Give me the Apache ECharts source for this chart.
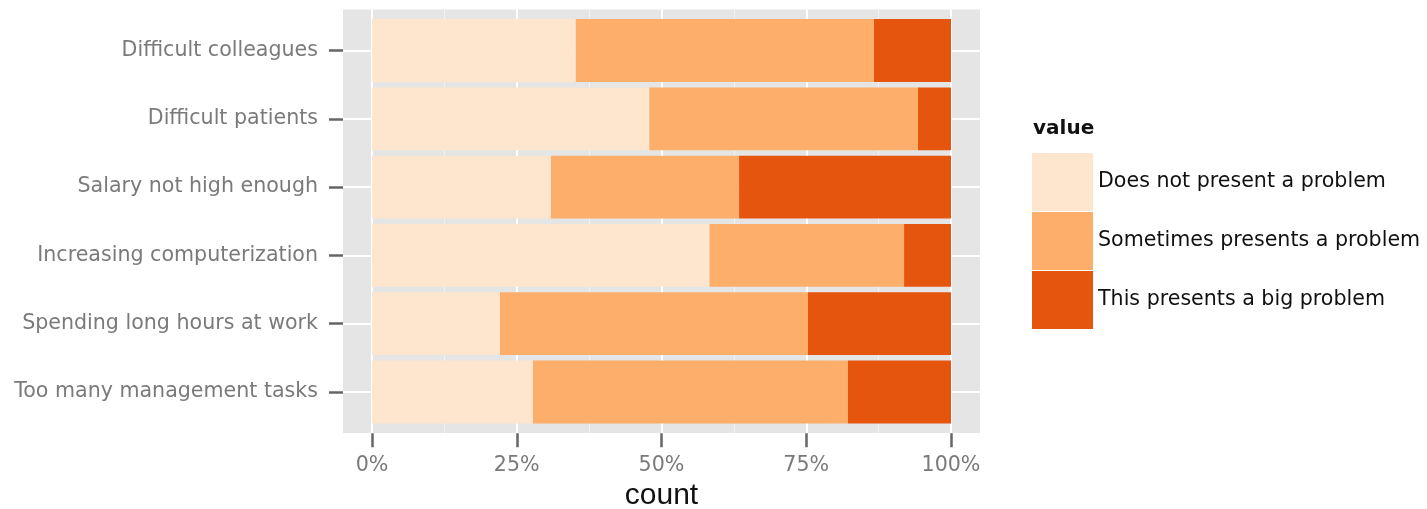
<!DOCTYPE html>
<html>
<head>
<meta charset="utf-8">
<script src="https://cdn.jsdelivr.net/npm/echarts@6/dist/echarts.min.js"></script>
<style>
  html, body { margin: 0; padding: 0; background: #ffffff; }
  #chart { width: 1427px; height: 509px; }
</style>
</head>
<body>
<div id="chart"></div>
<script>
// ---- data (percent of respondents) ----
const categories = [
  'Difficult colleagues',
  'Difficult patients',
  'Salary not high enough',
  'Increasing computerization',
  'Spending long hours at work',
  'Too many management tasks'
];
const seriesNames = [
  'Does not present a problem',
  'Sometimes presents a problem',
  'This presents a big problem'
];
const notAProblem   = [35.2, 47.9, 30.9, 58.3, 22.1, 27.8];
const sometimes     = [51.5, 46.4, 32.5, 33.6, 53.2, 54.4];
const bigProblem    = [13.3,  5.7, 36.6,  8.1, 24.7, 17.8];
const xTicks = [0, 25, 50, 75, 100];

// ---- styling ----
const FONT = 'DejaVu Sans';
const colors = ['#FEE6CE', '#FDAE6B', '#E6550D'];
const axisGrey = '#7a7a7a';

const minorTicks = xTicks.slice(1).map((v, i) => (v + xTicks[i]) / 2);

const chart = echarts.init(document.getElementById('chart'), null, { renderer: 'canvas' });

const gridCommon = { containLabel: false, outerBoundsMode: 'none' };

const option = {
  animation: false,
  backgroundColor: '#ffffff',
  title: {
    text: 'value',
    left: 1028,
    top: 114,
    textStyle: { fontFamily: FONT, fontSize: 20, fontWeight: 'bold', color: '#111' }
  },
  legend: {
    orient: 'vertical',
    left: 1027,
    top: 148,
    itemWidth: 61,
    itemHeight: 58,
    itemGap: 1,
    icon: 'rect',
    data: seriesNames,
    textStyle: { fontFamily: FONT, fontSize: 20.6, color: '#111', padding: [0, 0, 0, 0] },
    selectedMode: false
  },
  grid: [
    // panel background (ggplot-like expanded panel)
    Object.assign({ left: 343, top: 9.5, width: 637, height: 423.5, show: true,
      backgroundColor: '#E5E5E5', borderWidth: 0 }, gridCommon),
    // plotting region for the bars
    Object.assign({ left: 372, top: 16.35, width: 579, height: 409.8 }, gridCommon),
    // category axis ticks/labels at the panel's left edge
    Object.assign({ left: 343, top: 16.35, width: 608, height: 409.8 }, gridCommon)
  ],
  xAxis: [
    { gridIndex: 0, type: 'value', min: -5, max: 105, show: false },
    { gridIndex: 1, type: 'value', min: 0, max: 100, interval: 25,
      offset: 7,
      axisLine: { show: false },
      axisTick: { show: true, length: 14, lineStyle: { color: '#666', width: 2.5 } },
      splitLine: { show: false },
      axisLabel: { formatter: '{value}%', fontFamily: FONT, fontSize: 20.6, color: axisGrey, margin: 22 },
      name: 'count',
      nameLocation: 'middle',
      nameGap: 46,
      nameTextStyle: { fontFamily: 'Liberation Sans', fontSize: 30, color: '#111' }
    },
    { gridIndex: 2, type: 'value', min: 0, max: 100, show: false }
  ],
  yAxis: [
    { gridIndex: 0, type: 'value', min: -0.6, max: categories.length - 1 + 0.6, inverse: true, show: false },
    { gridIndex: 1, type: 'category', data: categories, inverse: true,
      axisLine: { show: false }, axisTick: { show: false },
      axisLabel: { show: false }, splitLine: { show: false } },
    { gridIndex: 2, type: 'category', data: categories, inverse: true,
      axisLine: { show: false },
      axisTick: { show: true, length: 14, alignWithLabel: true, lineStyle: { color: '#666', width: 2.5 } },
      splitLine: { show: false },
      axisLabel: { fontFamily: FONT, fontSize: 20.6, color: axisGrey, margin: 25 }
    }
  ],
  series: [
    {
      type: 'line', xAxisIndex: 0, yAxisIndex: 0, data: [], silent: true, z: 0,
      markLine: {
        silent: true,
        z: 0,
        symbol: ['none', 'none'],
        label: { show: false },
        animation: false,
        data: [
          ...minorTicks.map(v => ({ xAxis: v, lineStyle: { color: '#F2F2F2', width: 1, type: 'solid' } })),
          ...xTicks.map(v => ({ xAxis: v, lineStyle: { color: '#FFFFFF', width: 2, type: 'solid' } })),
          ...categories.map((c, i) => ({ yAxis: i, lineStyle: { color: '#FFFFFF', width: 2, type: 'solid' } }))
        ]
      }
    },
    { name: seriesNames[0], type: 'bar', stack: 'total', xAxisIndex: 1, yAxisIndex: 1,
      data: notAProblem, barCategoryGap: '8%', itemStyle: { color: colors[0] }, z: 2 },
    { name: seriesNames[1], type: 'bar', stack: 'total', xAxisIndex: 1, yAxisIndex: 1,
      data: sometimes, barCategoryGap: '8%', itemStyle: { color: colors[1] }, z: 2 },
    { name: seriesNames[2], type: 'bar', stack: 'total', xAxisIndex: 1, yAxisIndex: 1,
      data: bigProblem, barCategoryGap: '8%', itemStyle: { color: colors[2] }, z: 2 }
  ]
};

chart.setOption(option);
</script>
</body>
</html>
